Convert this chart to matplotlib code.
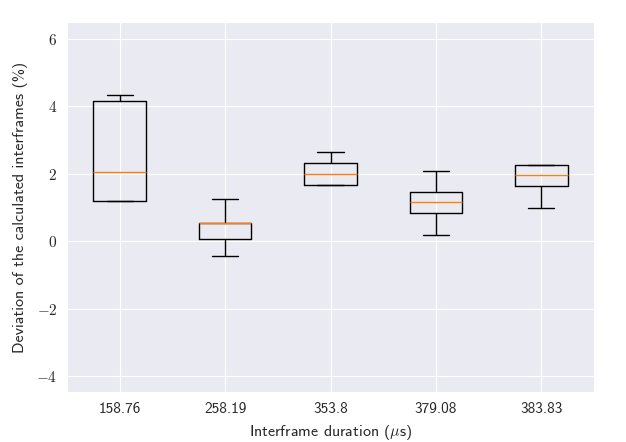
import matplotlib
matplotlib.use("Agg")
import matplotlib.pyplot as plt
from matplotlib.ticker import FuncFormatter
import seaborn as sns

categories = ["158.76", "258.19", "353.8", "379.08", "383.83"]
whislo = [1.19, -0.45, 1.67, 0.17, 0.97]
q1 = [1.19, 0.05, 1.65, 0.82, 1.62]
med = [2.04, 0.53, 1.98, 1.15, 1.95]
q3 = [4.15, 0.53, 2.30, 1.44, 2.25]
whishi = [4.33, 1.24, 2.63, 2.09, 2.25]

sns.set_style("darkgrid")
plt.rcParams["font.family"] = ["cmss10", "DejaVu Sans"]
plt.rcParams["mathtext.fontset"] = "cm"
plt.rcParams["axes.unicode_minus"] = False

fig = plt.figure(figsize=(6.26, 4.42), dpi=100)
ax = fig.add_axes([67 / 626, 50 / 442, 527 / 626, 370 / 442])

stats = []
for i, c in enumerate(categories):
    stats.append(dict(label=c, whislo=whislo[i], q1=q1[i], med=med[i],
                      q3=q3[i], whishi=whishi[i], fliers=[]))

ax.bxp(stats, positions=range(1, len(categories) + 1), widths=0.5,
       showfliers=False,
       boxprops=dict(color="black", linewidth=1),
       whiskerprops=dict(color="black", linewidth=1),
       capprops=dict(color="black", linewidth=1),
       medianprops=dict(color="#ff7f0e", linewidth=1))

ax.set_xlim(0.5, 5.5)
ax.set_ylim(-4.47, 6.49)
ax.set_yticks([-4, -2, 0, 2, 4, 6])
ax.yaxis.set_major_formatter(FuncFormatter(lambda v, p: r"$%g$" % v))
ax.tick_params(axis="both", labelsize=11, colors="#262626")
ax.set_xlabel(r"Interframe duration ($\mu$s)", fontsize=11.5, color="#262626",
              labelpad=5)
ax.set_ylabel(r"Deviation of the calculated interframes (%)", fontsize=11.5,
              color="#262626", labelpad=6)

fig.savefig("out.png", dpi=100)
